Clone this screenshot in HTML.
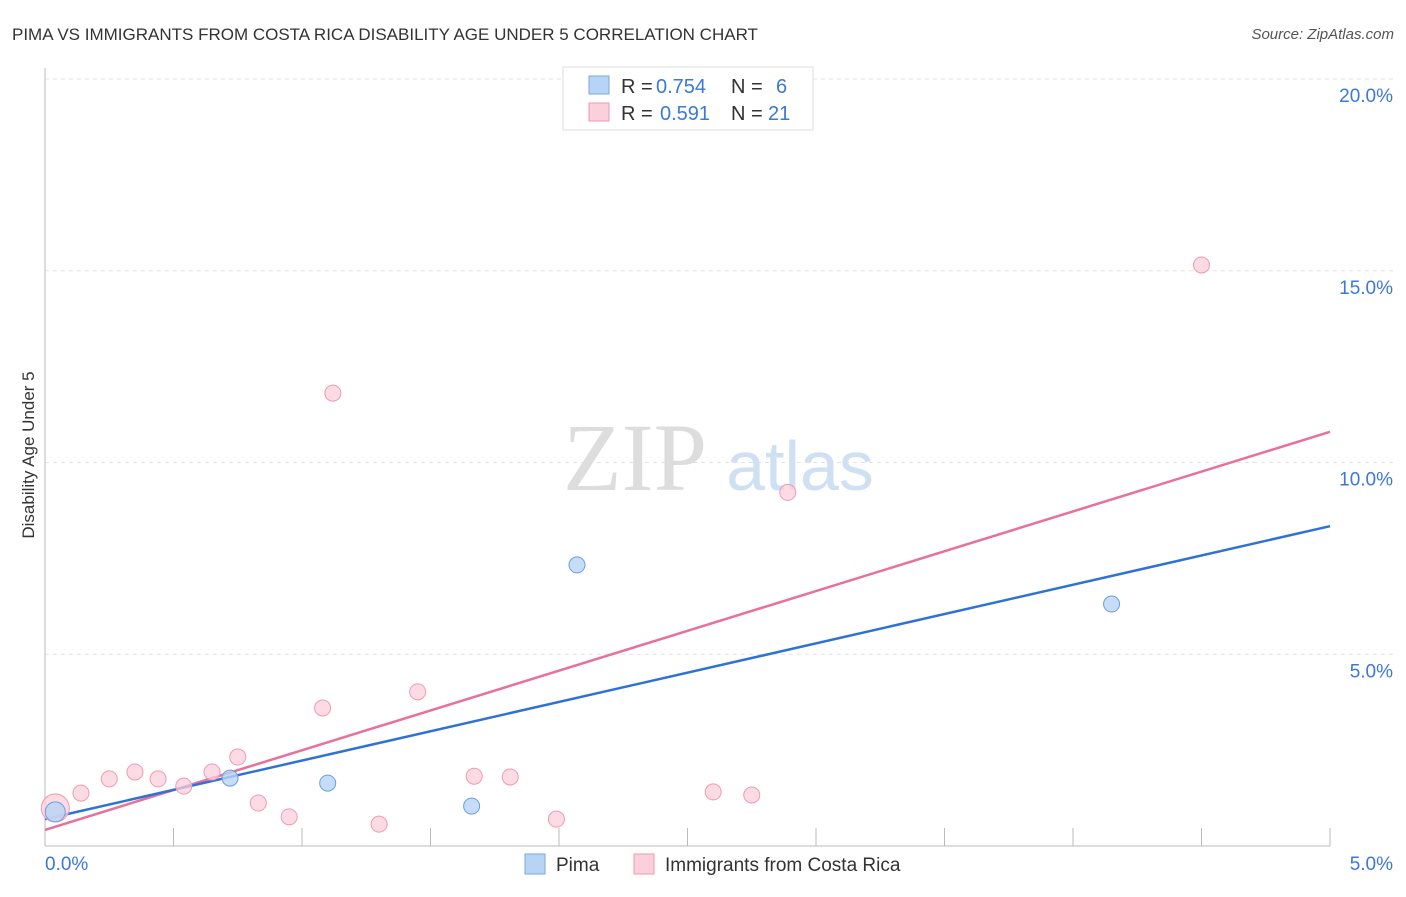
<!DOCTYPE html>
<html><head><meta charset="utf-8"><style>
body{margin:0;background:#fff;font-family:"Liberation Sans",sans-serif;}
</style></head><body>
<svg id="chart" width="1406" height="892" xmlns="http://www.w3.org/2000/svg">
<text x="12" y="40" font-size="17" fill="#333">PIMA VS IMMIGRANTS FROM COSTA RICA DISABILITY AGE UNDER 5 CORRELATION CHART</text>
<text x="1394" y="39" font-size="15" fill="#555" font-style="italic" text-anchor="end">Source: ZipAtlas.com</text>
<text x="34" y="455" font-size="17" fill="#333" transform="rotate(-90 34 455)" text-anchor="middle">Disability Age Under 5</text>
<g id="grid"></g>
<g id="watermark">
<text x="635" y="490" font-size="96" fill="#ddd" font-family="Liberation Serif" text-anchor="middle">ZIP</text>
<text x="800" y="490" font-size="70" fill="#cfe0f3" text-anchor="middle">atlas</text>
</g>
<g id="lines"></g>
<g id="points"></g>
<g>
<rect x="563" y="67" width="250" height="63" fill="#fff" stroke="#ddd"/>
<rect x="589" y="76" width="20" height="18" fill="#b8d4f5" stroke="#7aa7e0"/>
<text x="621" y="93" font-size="20" fill="#333">R =</text>
<text x="656" y="93" font-size="20" fill="#3b78d8">0.754</text>
<text x="731" y="93" font-size="20" fill="#333">N =</text>
<text x="776" y="93" font-size="20" fill="#3b78d8">6</text>
<rect x="589" y="103" width="20" height="18" fill="#fbcfdc" stroke="#ee9ab3"/>
<text x="621" y="120" font-size="20" fill="#333">R =</text>
<text x="660" y="120" font-size="20" fill="#3b78d8">0.591</text>
<text x="731" y="120" font-size="20" fill="#333">N =</text>
<text x="768" y="120" font-size="20" fill="#3b78d8">21</text>
</g>
<g>
<rect x="525" y="854" width="20" height="20" fill="#b8d4f5" stroke="#7aa7e0"/>
<text x="556" y="871" font-size="19" fill="#333">Pima</text>
<rect x="634" y="854" width="20" height="20" fill="#fbcfdc" stroke="#ee9ab3"/>
<text x="665" y="871" font-size="19" fill="#333">Immigrants from Costa Rica</text>
</g>
</svg>
<script>
const xTicks=[0,0.5,1,1.5,2,2.5,3,3.5,4,4.5,5];
const yTicks=[5,10,15,20];
const yTickLabels=["5.0%","10.0%","15.0%","20.0%"];
const pimaX=[0.04,0.72,1.10,1.66,2.07,4.15];
const pimaY=[0.89,1.77,1.64,1.04,7.33,6.31];
const crX=[0.04,0.14,0.25,0.35,0.44,0.54,0.65,0.75,0.83,0.95,1.08,1.12,1.30,1.45,1.67,1.81,1.99,2.60,2.75,2.89,4.50];
const crY=[0.99,1.38,1.75,1.93,1.75,1.56,1.93,2.32,1.12,0.76,3.60,11.81,0.57,4.02,1.82,1.80,0.70,1.41,1.33,9.22,15.15];
const pimaLine=[0.70,8.34];
const crLine=[0.42,10.8];
const X=v=>45+v*257, Y=v=>846-v*38.35;
const NS="http://www.w3.org/2000/svg";
function mk(t,a,p){const e=document.createElementNS(NS,t);for(const k in a)e.setAttribute(k,a[k]);p.appendChild(e);return e;}
const grid=document.getElementById('grid');
yTicks.forEach((t,i)=>{
 const l=mk('line',{x1:45,x2:1393,y1:Y(t),y2:Y(t),stroke:'#e3e3e3','stroke-dasharray':'4,4'},grid);
 
 
 const tx=mk('text',{x:1393,y:Y(t)+23,'font-size':19,fill:'#3b78d8','text-anchor':'end'},grid);
 tx.textContent=yTickLabels[i];
 
 
});
const ax=mk('line',{x1:45,x2:1330,y1:846,y2:846,stroke:'#bbb'},grid);


const yax=mk('line',{x1:45,x2:45,y1:68,y2:846,stroke:'#bbb'},grid);


xTicks.forEach(t=>{
 const l=mk('line',{x1:X(t),x2:X(t),y1:828,y2:846,stroke:'#bbb'},grid);
 
 
});
const x0=mk('text',{x:45,y:870,'font-size':19,fill:'#3b78d8'},grid);x0.textContent='0.0%';


const x5=mk('text',{x:1393,y:870,'font-size':19,fill:'#3b78d8','text-anchor':'end'},grid);x5.textContent='5.0%';


const lines=document.getElementById('lines');
const pl=mk('line',{x1:X(0),y1:Y(crLine[0]),x2:X(5),y2:Y(crLine[1]),stroke:'#e8709a','stroke-width':2.5},lines);


const bl=mk('line',{x1:X(0),y1:Y(pimaLine[0]),x2:X(5),y2:Y(pimaLine[1]),stroke:'#2f72d6','stroke-width':2.5},lines);


const pts=document.getElementById('points');
crX.forEach((v,i)=>{
 const c=mk('circle',{cx:X(v),cy:Y(crY[i]),r:i==0?14:8,fill:'#fbcfdc','fill-opacity':0.75,stroke:'#ee9ab3'},pts);
 
 
});
pimaX.forEach((v,i)=>{
 const c=mk('circle',{cx:X(v),cy:Y(pimaY[i]),r:i==0?10:8,fill:'#b8d4f5','fill-opacity':0.8,stroke:'#6d9de0'},pts);
 
 
});
</script>
</body></html>
